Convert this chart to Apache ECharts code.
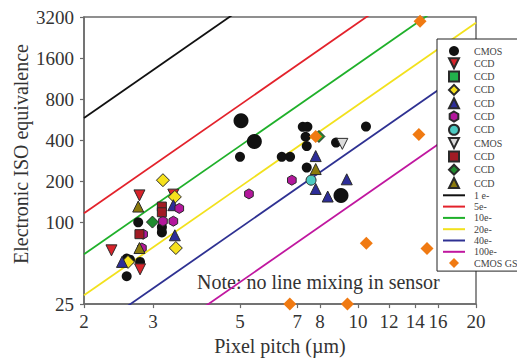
<!DOCTYPE html>
<html>
<head>
<meta charset="utf-8">
<script src="https://cdn.jsdelivr.net/npm/echarts@6/dist/echarts.min.js"></script>
<style>html,body{margin:0;padding:0;background:#fff}#c{width:517px;height:361px}</style>
</head>
<body>
<div id="c"></div>
<script>
// ---- data (pixel pitch in µm, electronic ISO equivalence) ----
const xTicks = [2, 3, 5, 7, 8, 10, 12, 14, 16, 20];
const yTicks = [25, 100, 200, 400, 800, 1600, 3200];

const cmosX = [5.0, 6.39, 6.71, 7.23, 7.43, 7.35, 7.4, 7.4, 10.48, 8.79, 2.75, 3.16, 3.16, 2.57, 2.62, 2.78, 2.57];
const cmosY = [301, 301, 301, 500, 500, 423, 361, 251, 502, 383, 99.5, 92, 84, 54, 53, 51, 40];
const cmosBigX = [5.03, 5.44, 9.05];
const cmosBigY = [555, 391, 157];
const ccdRedX = [2.77, 2.35, 2.78, 3.38];
const ccdRedY = [157, 62, 45, 159];
const ccdGreenX = [3.16];
const ccdGreenY = [88];
const ccdYellowX = [3.18, 3.41, 3.43, 2.59];
const ccdYellowY = [203, 153, 64.5, 51];
const ccdBlueX = [3.38, 3.41, 2.50, 7.8, 9.36, 7.8, 8.37];
const ccdBlueY = [133, 80, 51, 305, 206, 175, 154];
const ccdMagentaX = [3.18, 3.38, 3.50, 2.81, 2.83, 6.78, 5.27];
const ccdMagentaY = [101.5, 101.5, 126, 64.5, 81.5, 203, 161];
const ccdCyanX = [7.59];
const ccdCyanY = [203];
const cmosGrayX = [9.12];
const cmosGrayY = [375];
const ccdDarkRedX = [3.16, 3.16, 2.77];
const ccdDarkRedY = [130, 118, 81.5];
const ccdDarkGreenX = [2.99, 7.95];
const ccdDarkGreenY = [100, 425];
const ccdOliveX = [2.75, 2.77, 7.8];
const ccdOliveY = [130, 64.5, 245];
const cmosGsX = [14.4, 14.3, 15.0, 10.5, 6.7, 9.4, 7.8];
const cmosGsY = [2980, 440, 64, 70, 25, 25, 425];

const lineNames = ['1 e-', '5e-', '10e-', '20e-', '40e-', '100e-'];
const linePitch = [2, 20];
const lineIsoAtStart = [580, 116, 58, 29, 14.5, 5.8];
const lineIsoAtEnd = [58000, 11600, 5800, 2900, 1450, 580];

// ---- chart ----
const SERIF = "'Liberation Serif', 'Times New Roman', serif";
const AXIS_COLOR = '#6b6b6b';
const pts = (xs, ys) => xs.map((x, i) => [x, ys[i]]);
const hexagon = 'path://M0,-1L0.866,-0.5L0.866,0.5L0,1L-0.866,0.5L-0.866,-0.5Z';
const downTri = 'path://M0,0L2,0L1,2Z';
const upTri = 'path://M1,0L2,2L0,2Z';
const square = 'path://M0,0L2,0L2,2L0,2Z';
const diamond = 'path://M1,0L2,1L1,2L0,1Z';

const markerDefs = [
  {name: 'CMOS', x: cmosX, y: cmosY, symbol: 'circle', size: 10, color: '#111111', border: 0},
  {name: 'CCD#1', x: ccdRedX, y: ccdRedY, symbol: downTri, size: 11, color: '#d8232a', border: 1},
  {name: 'CCD#2', x: ccdGreenX, y: ccdGreenY, symbol: square, size: 8, color: '#22b14c', border: 1, z: 1},
  {name: 'CCD#3', x: ccdYellowX, y: ccdYellowY, symbol: diamond, size: 13, color: '#f6e11c', border: 1},
  {name: 'CCD#4', x: ccdBlueX, y: ccdBlueY, symbol: upTri, size: 11, color: '#2d2d98', border: 1},
  {name: 'CCD#5', x: ccdMagentaX, y: ccdMagentaY, symbol: hexagon, size: 10, color: '#b3179c', border: 1},
  {name: 'CCD#6', x: ccdCyanX, y: ccdCyanY, symbol: 'circle', size: 10, color: '#4ccac2', border: 1},
  {name: 'CMOS#7', x: cmosGrayX, y: cmosGrayY, symbol: downTri, size: 11, color: '#dcdcdc', border: 1},
  {name: 'CCD#8', x: ccdDarkRedX, y: ccdDarkRedY, symbol: square, size: 9, color: '#a11b24', border: 1},
  {name: 'CCD#9', x: ccdDarkGreenX, y: ccdDarkGreenY, symbol: diamond, size: 12, color: '#1e8c2e', border: 1},
  {name: 'CCD#10', x: ccdOliveX, y: ccdOliveY, symbol: upTri, size: 11, color: '#8b7a0c', border: 1}
];
const lineColors = ['#111111', '#e3222b', '#1fb02a', '#f2e11d', '#2e3192', '#c0179f'];

const series = [];
lineNames.forEach((n, i) => {
  series.push({
    name: n, type: 'line', symbol: 'none', clip: true, z: 2, silent: true,
    lineStyle: {color: lineColors[i], width: 1.8},
    itemStyle: {color: lineColors[i]},
    data: [[linePitch[0], lineIsoAtStart[i]], [linePitch[1], lineIsoAtEnd[i]]]
  });
});
markerDefs.forEach(d => {
  series.push({
    name: d.name, type: 'scatter', symbol: d.symbol, symbolSize: d.size, symbolKeepAspect: true,
    z: d.z || 3, silent: true,
    itemStyle: {color: d.color, borderColor: '#2a2a2a', borderWidth: d.border, opacity: 1},
    data: pts(d.x, d.y)
  });
});
series.push({
  name: 'CMOS', type: 'scatter', symbol: 'circle', symbolSize: 15, z: 3, silent: true,
  itemStyle: {color: '#111111', opacity: 1}, data: pts(cmosBigX, cmosBigY)
});
series.push({
  name: 'CMOS GS', type: 'scatter', symbol: diamond, symbolSize: 13, symbolKeepAspect: true, z: 4, silent: true,
  itemStyle: {color: '#f07a12', opacity: 1}, data: pts(cmosGsX, cmosGsY)
});

const legendOrder = markerDefs.map(d => ({name: d.name}))
  .concat(lineNames.map(n => ({name: n, itemStyle: {opacity: 0}})))
  .concat([{name: 'CMOS GS'}]);

const chart = echarts.init(document.getElementById('c'), null, {renderer: 'svg'});
chart.setOption({
  animation: false,
  backgroundColor: '#ffffff',
  grid: {left: 84, right: 41, top: 17, bottom: 47, show: true, borderColor: AXIS_COLOR, borderWidth: 1.5, backgroundColor: 'transparent'},
  xAxis: {
    type: 'log', logBase: 10, min: 2, max: 20,
    axisLine: {lineStyle: {color: AXIS_COLOR, width: 1.5}},
    axisTick: {show: true, length: 4, customValues: xTicks, lineStyle: {color: AXIS_COLOR, width: 1.2}},
    axisLabel: {customValues: xTicks, formatter: v => String(Math.round(v)), fontSize: 19, fontFamily: SERIF, color: '#333', margin: 8},
    splitLine: {show: false}, minorTick: {show: false},
    name: 'Pixel pitch (µm)', nameLocation: 'middle', nameGap: 27,
    nameTextStyle: {fontSize: 20, fontFamily: SERIF, color: '#333'}
  },
  yAxis: {
    type: 'log', logBase: 2, min: 25, max: 3200,
    axisLine: {lineStyle: {color: AXIS_COLOR, width: 1.5}},
    axisTick: {show: true, length: 4, customValues: yTicks, lineStyle: {color: AXIS_COLOR, width: 1.2}},
    axisLabel: {customValues: yTicks, formatter: v => String(Math.round(v)), fontSize: 19, fontFamily: SERIF, color: '#333', margin: 10},
    splitLine: {show: false}, minorTick: {show: false}
  },
  legend: {
    orient: 'vertical', left: 437, top: 39, padding: [7, 8, 3, 5],
    itemWidth: 22, itemHeight: 10, itemGap: 1.3, symbolKeepAspect: true,
    backgroundColor: '#ffffff', borderColor: '#222', borderWidth: 1, borderRadius: 0,
    textStyle: {fontFamily: SERIF, fontSize: 10, color: '#444', lineHeight: 10, padding: [0, 0, 0, 4]},
    formatter: name => name.replace(/#\d+$/, ''),
    data: legendOrder,
    selectedMode: false
  },
  graphic: [
    {type: 'text', x: 21, y: 154, rotation: Math.PI / 2,
     style: {text: 'Electronic ISO equivalence', fontSize: 20, fontFamily: SERIF, fill: '#333', align: 'center', verticalAlign: 'middle'}},
    {type: 'text', x: 197, y: 282,
     style: {text: 'Note: no line mixing in sensor', fontSize: 20, fontFamily: SERIF, fill: '#333', align: 'left', verticalAlign: 'middle'}}
  ],
  series: series
});
</script>
</body>
</html>
